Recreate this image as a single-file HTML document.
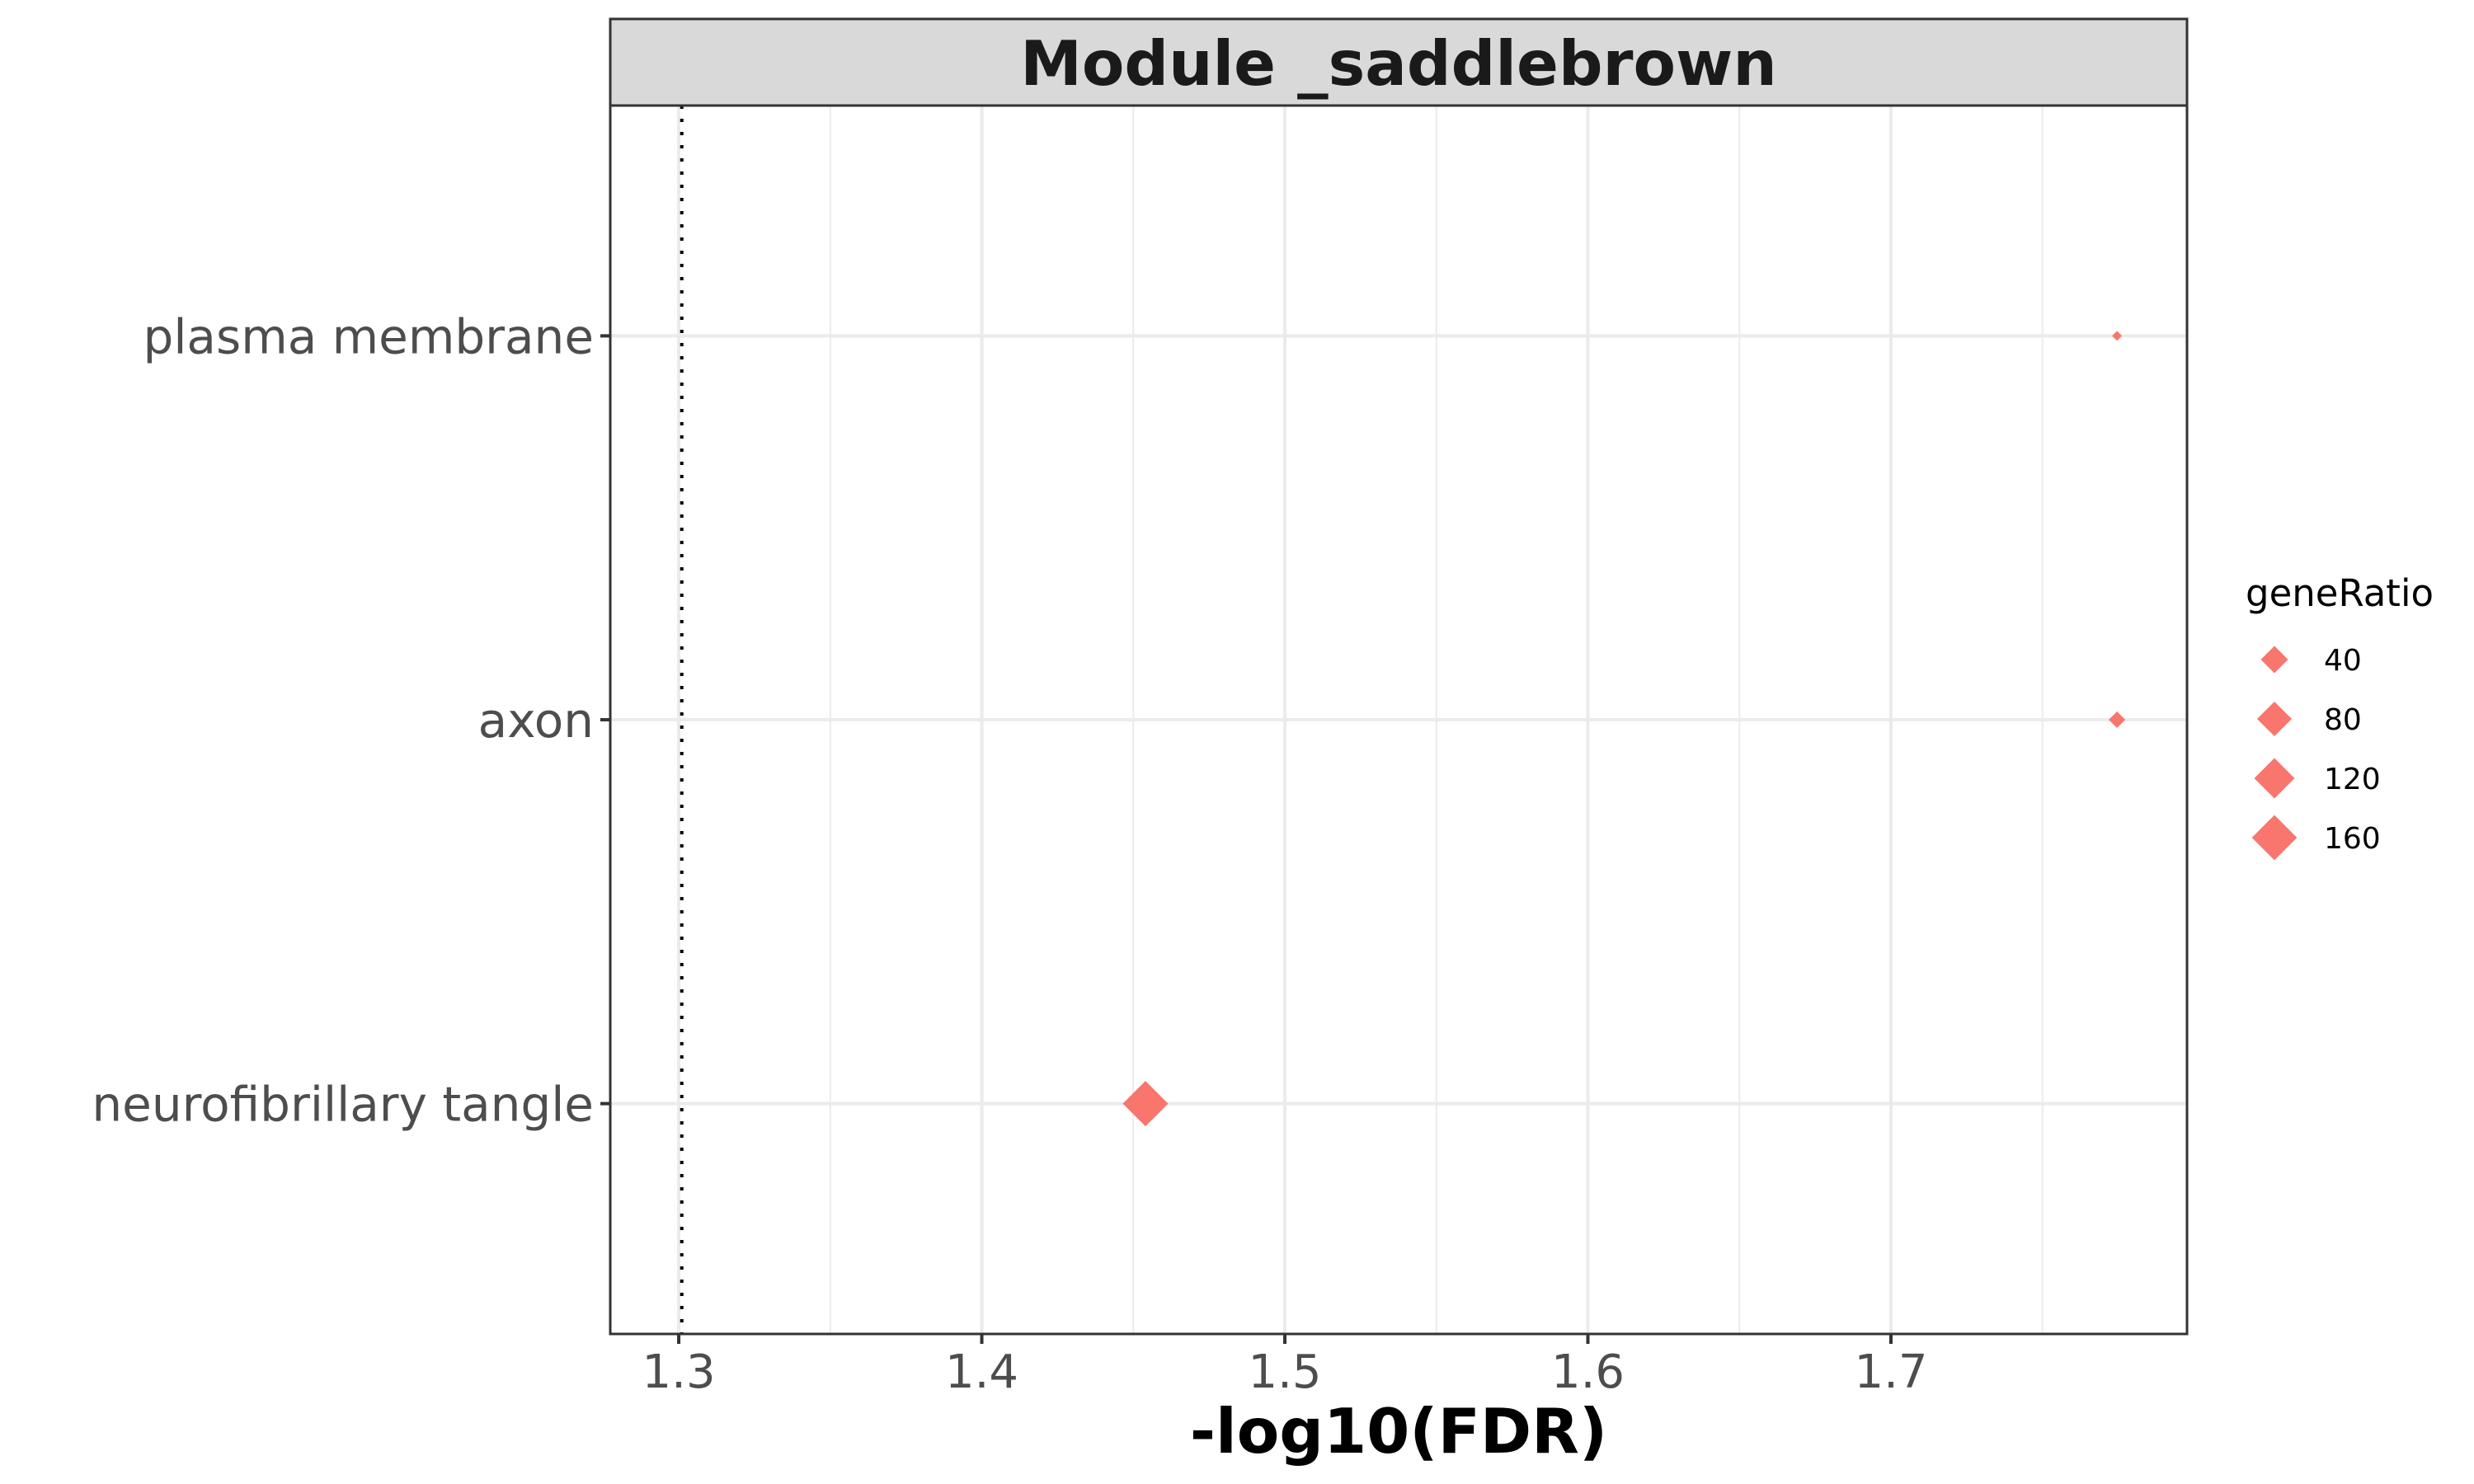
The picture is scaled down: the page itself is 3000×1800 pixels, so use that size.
<!DOCTYPE html>
<html><head><meta charset="utf-8"><style>
html,body{margin:0;padding:0;background:#fff;}
svg{display:block;font-family:"DejaVu Sans","Liberation Sans",sans-serif;}
</style></head><body>
<svg id="chart" width="3000" height="1800" viewBox="0 0 3000 1800" xmlns="http://www.w3.org/2000/svg">
<rect x="0" y="0" width="3000" height="1800" fill="#fff"/>
<g id="grid"></g>
<line id="threshold" stroke="#000" stroke-width="4" stroke-dasharray="4,12"/>
<g id="points"></g>
<rect x="740" y="128" width="1912" height="1490" fill="none" stroke="#333" stroke-width="3"/>
<rect x="740" y="23" width="1912" height="105" fill="#d9d9d9" stroke="#333" stroke-width="3"/>
<text x="1696" y="103" text-anchor="middle" font-size="75" font-weight="bold" fill="#1a1a1a">Module _saddlebrown</text>
<g id="xaxis"></g>
<g id="yaxis"></g>
<text x="1696" y="1762" text-anchor="middle" font-size="75" font-weight="bold" fill="#000">-log10(FDR)</text>
<g id="legend">
<text x="2723" y="735" font-size="45" fill="#000">geneRatio</text>
</g>
</svg>
<script>
const categories = ["neurofibrillary tangle", "axon", "plasma membrane"];
const fdrValues = [1.454, 1.7746, 1.7746];
const geneRatios = [162, 7.5, 2];
const xTicks = [1.3, 1.4, 1.5, 1.6, 1.7];
const xMinor = [1.35, 1.45, 1.55, 1.65, 1.75];
const legendBreaks = [40, 80, 120, 160];
const thresholdValue = 1.301;

const NS = "http://www.w3.org/2000/svg";
const L = 740, R = 2652, T = 128, B = 1618;
const xDom = [1.2774, 1.7977];
function xs(v){ return L + (v - xDom[0]) / (xDom[1] - xDom[0]) * (R - L); }
function ys(i){ const n = categories.length; const step = (B - T) / (n - 1 + 1.2); return B - (0.6 + i) * step; }
const gMin = Math.min(...geneRatios), gMax = Math.max(...geneRatios);
function rs(v){ const t = Math.max(0, Math.min(1, (v - gMin) / (gMax - gMin))); return 6 + 21.5 * Math.sqrt(t); }
function mk(tag, attrs, parent){ const e = document.createElementNS(NS, tag); for (const k in attrs) e.setAttribute(k, attrs[k]); parent.appendChild(e); return e; }
function diamond(cx, cy, r){ return `${cx},${cy-r} ${cx+r},${cy} ${cx},${cy+r} ${cx-r},${cy}`; }

const grid = document.getElementById('grid');
xMinor.forEach(v => {
  const l = mk('line', {x1: xs(v), x2: xs(v), y1: T, y2: B, stroke: '#ebebeb', 'stroke-width': 2}, grid);
  
  
});
xTicks.forEach(v => {
  const l = mk('line', {x1: xs(v), x2: xs(v), y1: T, y2: B, stroke: '#ebebeb', 'stroke-width': 4}, grid);
  
  
});
categories.forEach((c, i) => {
  const l = mk('line', {x1: L, x2: R, y1: ys(i), y2: ys(i), stroke: '#ebebeb', 'stroke-width': 4}, grid);
  
  
});

const th = document.getElementById('threshold');
th.setAttribute('x1', xs(thresholdValue)); th.setAttribute('x2', xs(thresholdValue));
th.setAttribute('y1', T); th.setAttribute('y2', B);

const pts = document.getElementById('points');
categories.forEach((c, i) => {
  const p = mk('polygon', {points: diamond(xs(fdrValues[i]), ys(i), rs(geneRatios[i])), fill: '#f8766d'}, pts);
  
  
});

const xa = document.getElementById('xaxis');
xTicks.forEach(v => {
  const t = mk('line', {x1: xs(v), x2: xs(v), y1: B, y2: B + 12, stroke: '#333', 'stroke-width': 4}, xa);
  
  
  const tx = mk('text', {x: xs(v), y: 1683, 'text-anchor': 'middle', 'font-size': 56, fill: '#4d4d4d'}, xa);
  tx.textContent = v.toFixed(1);
  
  
});

const ya = document.getElementById('yaxis');
categories.forEach((c, i) => {
  const t = mk('line', {x1: L - 12, x2: L, y1: ys(i), y2: ys(i), stroke: '#333', 'stroke-width': 4}, ya);
  
  
  const tx = mk('text', {x: 720, y: ys(i) + 21, 'text-anchor': 'end', 'font-size': 58, fill: '#4d4d4d'}, ya);
  tx.textContent = c;
  
  
});

const lg = document.getElementById('legend');
legendBreaks.forEach((b, i) => {
  const cy = 800 + i * 72;
  const p = mk('polygon', {points: diamond(2758, cy, rs(b)), fill: '#f8766d'}, lg);
  
  
  const tx = mk('text', {x: 2818, y: cy + 13, 'font-size': 36, fill: '#000'}, lg);
  tx.textContent = b;
  
  
});
</script>
</body></html>
